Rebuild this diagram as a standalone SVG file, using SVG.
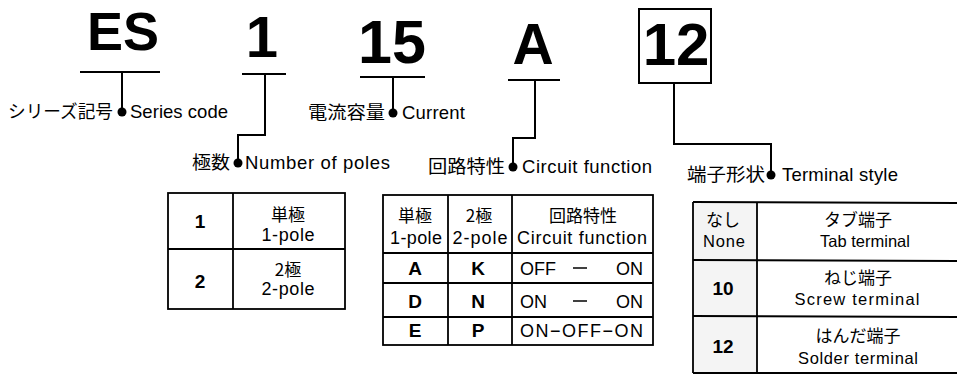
<svg xmlns="http://www.w3.org/2000/svg" width="957" height="374" viewBox="0 0 957 374">
<style>
.big{font-family:"Liberation Sans",Arial,sans-serif;font-weight:bold;fill:#000;text-anchor:middle}
.lbl{font-family:"Liberation Sans","Noto Sans CJK JP",sans-serif;font-size:18.5px;fill:#000}
.jp{font-family:"Noto Sans CJK JP","Liberation Sans",sans-serif;font-size:18px;fill:#000}
.t{font-family:"Liberation Sans","Noto Sans CJK JP",sans-serif;font-size:18px;fill:#000;text-anchor:middle}
.t3{font-family:"Liberation Sans","Noto Sans CJK JP",sans-serif;font-size:16.5px;fill:#000;text-anchor:middle}
.tj{font-family:"Noto Sans CJK JP","Liberation Sans",sans-serif;font-size:17px;fill:#000;text-anchor:middle}
.tb{font-family:"Liberation Sans",Arial,sans-serif;font-size:19px;font-weight:bold;fill:#000;text-anchor:middle}
.ln{fill:none;stroke:#000;stroke-width:2}
.grid{fill:none;stroke:#000;stroke-width:1.8}
.dot{fill:#000}
</style>
<rect x="0" y="0" width="957" height="374" fill="#fff"/>

<g id="code-ES">
<text class="big" x="123" y="50" font-size="54">ES</text>
</g>
<g id="code-1">
<text class="big" x="262" y="57" font-size="58">1</text>
</g>
<g id="code-15">
<text class="big" x="392" y="63" font-size="61">15</text>
</g>
<g id="code-A">
<text class="big" x="533" y="64" font-size="57">A</text>
</g>
<g id="code-12">
<rect x="639" y="9" width="72" height="74" fill="#fff" stroke="#000" stroke-width="2"/>
<text class="big" x="676" y="65" font-size="60">12</text>
</g>

<g id="connectors">
<line class="ln" x1="80" y1="72" x2="160" y2="72"/>
<line class="ln" x1="122" y1="72" x2="122" y2="112"/>
<line class="ln" x1="242" y1="74" x2="286" y2="74"/>
<polyline class="ln" points="265,74 265,135 238,135 238,163"/>
<line class="ln" x1="360" y1="77" x2="425" y2="77"/>
<line class="ln" x1="393" y1="77" x2="393" y2="113"/>
<line class="ln" x1="508" y1="80" x2="560" y2="80"/>
<polyline class="ln" points="535,80 535,138 513,138 513,167"/>
<polyline class="ln" points="674,83 674,144 771,144 771,175"/>
<circle class="dot" cx="122" cy="112" r="4.5"/>
<circle class="dot" cx="238" cy="163" r="4.5"/>
<circle class="dot" cx="393" cy="113" r="4.5"/>
<circle class="dot" cx="513" cy="167" r="4.5"/>
<circle class="dot" cx="771" cy="175" r="4.5"/>
</g>

<g id="label-series">
<text class="jp" x="8" y="118" textLength="105" lengthAdjust="spacingAndGlyphs">シリーズ記号</text>
<text class="lbl" x="130" y="118" textLength="98" lengthAdjust="spacing">Series code</text>
</g>
<g id="label-poles">
<text class="jp" x="192" y="169" textLength="38" lengthAdjust="spacingAndGlyphs">極数</text>
<text class="lbl" x="245" y="169" textLength="145" lengthAdjust="spacing">Number of poles</text>
</g>
<g id="label-current">
<text class="jp" x="308" y="119" textLength="77" lengthAdjust="spacingAndGlyphs">電流容量</text>
<text class="lbl" x="402" y="119" textLength="63" lengthAdjust="spacing">Current</text>
</g>
<g id="label-circuit">
<text class="jp" x="428" y="173" textLength="77" lengthAdjust="spacingAndGlyphs">回路特性</text>
<text class="lbl" x="522" y="173" textLength="130" lengthAdjust="spacing">Circuit function</text>
</g>
<g id="label-terminal">
<text class="jp" x="687" y="181" textLength="78" lengthAdjust="spacingAndGlyphs">端子形状</text>
<text class="lbl" x="782" y="181" textLength="116" lengthAdjust="spacing">Terminal style</text>
</g>

<g id="table-poles">
<rect class="grid" x="168" y="193" width="177" height="116"/>
<line class="grid" x1="233" y1="193" x2="233" y2="309"/>
<line class="grid" x1="168" y1="249" x2="345" y2="249"/>
<text class="tb" x="200" y="228">1</text>
<text class="tj" x="288" y="221">単極</text>
<text class="t" x="288" y="241" textLength="53" lengthAdjust="spacing">1-pole</text>
<text class="tb" x="200" y="288">2</text>
<text class="tj" x="288" y="276">2極</text>
<text class="t" x="288" y="295" textLength="53" lengthAdjust="spacing">2-pole</text>
</g>

<g id="table-circuit">
<rect class="grid" x="383" y="195" width="270" height="150"/>
<line class="grid" x1="448" y1="195" x2="448" y2="345"/>
<line class="grid" x1="512" y1="195" x2="512" y2="345"/>
<line class="grid" x1="383" y1="253" x2="653" y2="253"/>
<line class="grid" x1="383" y1="283" x2="653" y2="283"/>
<line class="grid" x1="383" y1="317" x2="653" y2="317"/>
<text class="tj" x="415" y="222">単極</text>
<text class="t" x="416" y="244" textLength="52" lengthAdjust="spacing">1-pole</text>
<text class="tj" x="479" y="222">2極</text>
<text class="t" x="480" y="244" textLength="55" lengthAdjust="spacing">2-pole</text>
<text class="tj" x="583" y="222">回路特性</text>
<text class="t" x="582" y="244" textLength="130" lengthAdjust="spacing">Circuit function</text>
<text class="tb" x="415" y="275">A</text>
<text class="tb" x="478" y="275">K</text>
<text class="t" x="520" y="275" style="text-anchor:start">OFF</text>
<line x1="573" y1="268" x2="587" y2="268" stroke="#000" stroke-width="1.5"/>
<text class="t" x="643" y="275" style="text-anchor:end">ON</text>
<text class="tb" x="415" y="308">D</text>
<text class="tb" x="478" y="308">N</text>
<text class="t" x="520" y="308" style="text-anchor:start">ON</text>
<line x1="573" y1="301" x2="587" y2="301" stroke="#000" stroke-width="1.5"/>
<text class="t" x="643" y="308" style="text-anchor:end">ON</text>
<text class="tb" x="415" y="337">E</text>
<text class="tb" x="478" y="337">P</text>
<text class="t" x="520" y="337" style="text-anchor:start" textLength="123" lengthAdjust="spacing">ON−OFF−ON</text>
</g>

<g id="table-terminal">
<rect x="693" y="202" width="64" height="171" fill="#f4f4f4"/>
<line class="grid" x1="693" y1="202" x2="957" y2="203"/>
<line class="grid" x1="693" y1="260" x2="957" y2="261"/>
<line class="grid" x1="693" y1="316" x2="957" y2="317"/>
<line class="grid" x1="693" y1="373" x2="957" y2="373"/>
<line class="grid" x1="693" y1="202" x2="693" y2="373"/>
<line class="grid" x1="757" y1="202" x2="757" y2="373"/>
<text class="tj" x="723" y="226">なし</text>
<text class="t3" x="724" y="247" textLength="42" lengthAdjust="spacing">None</text>
<text class="tj" x="858" y="226">タブ端子</text>
<text class="t3" x="865" y="247">Tab terminal</text>
<text class="tb" x="723" y="295">10</text>
<text class="tj" x="858" y="284">ねじ端子</text>
<text class="t3" x="857" y="305" textLength="125" lengthAdjust="spacing">Screw terminal</text>
<text class="tb" x="723" y="353">12</text>
<text class="tj" x="858" y="342">はんだ端子</text>
<text class="t3" x="858" y="364" textLength="120" lengthAdjust="spacing">Solder terminal</text>
</g>
</svg>
